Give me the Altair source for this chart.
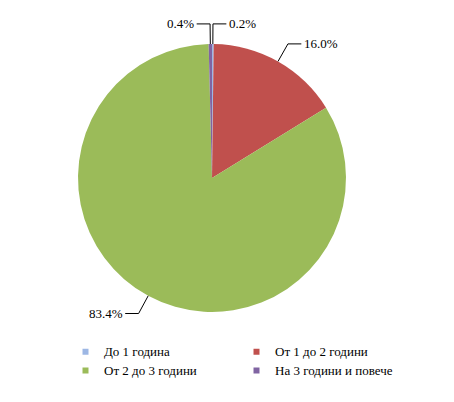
import math
import altair as alt
import pandas as pd

categories = ["До 1 година", "От 1 до 2 години", "От 2 до 3 години", "На 3  години и повече"]
values = [0.2, 16.0, 83.4, 0.4]
labels = ["0.2%", "16.0%", "83.4%", "0.4%"]
colors = ["#9DB7E4", "#C0504D", "#9BBB59", "#8064A2"]

FONT = "'Liberation Serif', 'DejaVu Serif', serif"
R = 134.0
W, H = 408, 340
ax = (W / 2) / R
ay = (H / 2) / R

total = sum(values)
rows = []
cum = 0.0
for i, (c, v, l) in enumerate(zip(categories, values, labels)):
    mid = (cum + v / 2) / total * 2 * math.pi
    cum += v
    s, co = math.sin(mid), math.cos(mid)
    side = 1 if s >= 0 else -1
    r1, r2, hl = 1.0, 1.15, 0.1
    ex, ey = r2 * s, r2 * co
    rows.append(dict(cat=c, val=v, lab=l, idx=i,
                     x0=r1 * s, y0=r1 * co, x1=ex, y1=ey,
                     x2=ex + side * hl, y2=ey,
                     tx=ex + side * (hl + 0.02), ty=ey, side=side))
df = pd.DataFrame(rows)

# legend is laid out column by column: reorder domain so rows read like the original
leg_order = [0, 2, 1, 3]
leg_domain = [categories[k] for k in leg_order]
leg_range = [colors[k] for k in leg_order]

xs = alt.Scale(domain=[-ax, ax], nice=False, zero=False)
ys = alt.Scale(domain=[-ay, ay], nice=False, zero=False)
noax = None

pie = alt.Chart(df).mark_arc(outerRadius=R).encode(
    theta=alt.Theta("val:Q", stack=True),
    order=alt.Order("idx:Q"),
    color=alt.Color("cat:N",
                    scale=alt.Scale(domain=leg_domain, range=leg_range),
                    legend=alt.Legend(title=None, orient="none", legendX=71, legendY=337,
                                      columns=2, columnPadding=53, rowPadding=5,
                                      symbolType="square", symbolSize=36, symbolStrokeWidth=0,
                                      labelFont=FONT, labelFontSize=13,
                                      labelColor="#000", labelOffset=12, padding=0)),
)

seg1 = alt.Chart(df).mark_rule(color="#000", strokeWidth=1).encode(
    x=alt.X("x0:Q", scale=xs, axis=noax), y=alt.Y("y0:Q", scale=ys, axis=noax),
    x2="x1:Q", y2="y1:Q")
seg2 = alt.Chart(df).mark_rule(color="#000", strokeWidth=1).encode(
    x=alt.X("x1:Q", scale=xs, axis=noax), y=alt.Y("y1:Q", scale=ys, axis=noax),
    x2="x2:Q", y2="y2:Q")
txt_r = alt.Chart(df).transform_filter("datum.side > 0").mark_text(
    align="left", baseline="middle", font=FONT, fontSize=13, color="#000").encode(
    x=alt.X("tx:Q", scale=xs, axis=noax), y=alt.Y("ty:Q", scale=ys, axis=noax), text="lab:N")
txt_l = alt.Chart(df).transform_filter("datum.side < 0").mark_text(
    align="right", baseline="middle", font=FONT, fontSize=13, color="#000").encode(
    x=alt.X("tx:Q", scale=xs, axis=noax), y=alt.Y("ty:Q", scale=ys, axis=noax), text="lab:N")

chart = alt.layer(pie, seg1, seg2, txt_r, txt_l).properties(
    width=W, height=H, padding=0
).configure(background="white", view=alt.ViewConfig(stroke=None))

chart.save("out.html", embed_options={"renderer": "svg", "actions": False})
